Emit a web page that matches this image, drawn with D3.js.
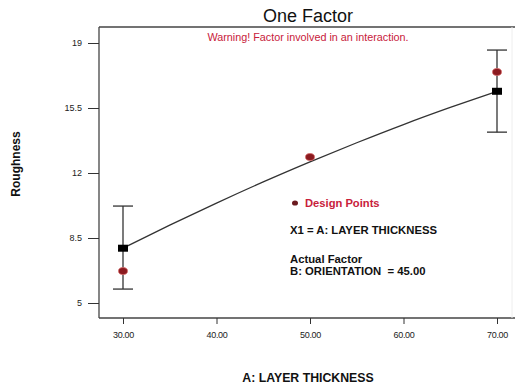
<!DOCTYPE html>
<html>
<head>
<meta charset="utf-8">
<script src="https://cdn.jsdelivr.net/npm/d3@7"></script>
<style>
html,body{margin:0;padding:0;background:#fff;}
svg{display:block;font-family:"Liberation Sans",Arial,sans-serif;}
text{white-space:pre;}
</style>
</head>
<body>
<svg id="chart" width="518" height="389"></svg>
<script>
// ---- data ----
const xTicks = [30, 40, 50, 60, 70];
const yTicks = [5, 8.5, 12, 15.5, 19];
const curveX = [30, 35, 40, 45, 50, 55, 60, 65, 70];
const curveY = [7.95, 9.19, 10.38, 11.52, 12.6, 13.63, 14.61, 15.53, 16.4];
const designX = [30, 50, 70];
const designY = [6.72, 12.86, 17.44];
const barX = [30, 70];
const barPred = [7.95, 16.4];
const barLow = [5.75, 14.2];
const barHigh = [10.22, 18.62];
const titleText = "One Factor";
const warningText = "Warning! Factor involved in an interaction.";
const xTitle = "A: LAYER THICKNESS";
const yTitle = "Roughness";
const legendLines = ["Design Points", "X1 = A: LAYER THICKNESS", "Actual Factor", "B: ORIENTATION  = 45.00"];

const svg = d3.select("#chart");
const L = 99, R = 515, T = 27, B = 318;
const x = d3.scaleLinear().domain([30, 70]).range([123, 497]);
const y = d3.scaleLinear().domain([5, 19]).range([303, 43]);

// frame
svg.append("line").attr("x1", L).attr("x2", R).attr("y1", T).attr("y2", T).attr("stroke", "#444").attr("stroke-width", 1.3);
svg.append("line").attr("x1", L).attr("x2", R).attr("y1", B).attr("y2", B).attr("stroke", "#444").attr("stroke-width", 1.3);
svg.append("line").attr("x1", L).attr("x2", L).attr("y1", T).attr("y2", B).attr("stroke", "#444").attr("stroke-width", 1.3);
svg.append("line").attr("x1", 512).attr("x2", 512).attr("y1", T).attr("y2", B).attr("stroke", "#eee").attr("stroke-width", 1);

// y axis
const yAxis = d3.axisLeft(y).tickValues(yTicks).tickSize(11).tickPadding(6).tickFormat(d => String(d));
const gy = svg.append("g").attr("transform", `translate(${L},0)`).call(yAxis);
gy.select(".domain").remove();
gy.selectAll(".tick line").attr("stroke", "#333");
gy.selectAll(".tick text").attr("font-size", 9).attr("fill", "#222").attr("font-family", "Liberation Sans Narrow, Liberation Sans, Arial, sans-serif");

// x axis
const xAxis = d3.axisBottom(x).tickValues(xTicks).tickSize(6).tickPadding(8).tickFormat(d => d3.format(".2f")(d));
const gx = svg.append("g").attr("transform", `translate(0,${B})`).call(xAxis);
gx.select(".domain").remove();
gx.selectAll(".tick line").attr("stroke", "#333");
gx.selectAll(".tick text").attr("font-size", 9).attr("fill", "#222").attr("letter-spacing", "-0.3px").attr("font-family", "Liberation Sans Narrow, Liberation Sans, Arial, sans-serif");

// titles
svg.append("text").attr("x", 308).attr("y", 22).attr("text-anchor", "middle").attr("font-size", 18).attr("fill", "#111").text(titleText);
svg.append("text").attr("x", 308).attr("y", 41).attr("text-anchor", "middle").attr("font-size", 10.8).attr("fill", "#c8203a").text(warningText);
svg.append("text").attr("x", 308).attr("y", 382).attr("text-anchor", "middle").attr("font-size", 12.3).attr("font-weight", "bold").attr("fill", "#111").text(xTitle);
svg.append("text").attr("transform", "translate(20,164) rotate(-90)").attr("text-anchor", "middle").attr("font-size", 12).attr("font-weight", "bold").attr("fill", "#111").text(yTitle);

// curve
const line = d3.line().x((d, i) => x(curveX[i])).y(d => y(d)).curve(d3.curveMonotoneX);
svg.append("path").datum(curveY).attr("d", line).attr("fill", "none").attr("stroke", "#333").attr("stroke-width", 1.3);

// error bars
barX.forEach((bx, i) => {
  const g = svg.append("g").attr("stroke", "#333").attr("stroke-width", 1.3);
  g.append("line").attr("x1", x(bx)).attr("x2", x(bx)).attr("y1", y(barHigh[i])).attr("y2", y(barLow[i]));
  g.append("line").attr("x1", x(bx) - 10).attr("x2", x(bx) + 10).attr("y1", y(barHigh[i])).attr("y2", y(barHigh[i]));
  g.append("line").attr("x1", x(bx) - 10).attr("x2", x(bx) + 10).attr("y1", y(barLow[i])).attr("y2", y(barLow[i]));
  svg.append("rect").attr("x", x(bx) - 5).attr("y", y(barPred[i]) - 3.5).attr("width", 10).attr("height", 7).attr("fill", "#000");
});

// design points
svg.selectAll("ellipse.dp").data(designY).enter().append("ellipse")
  .attr("class", "dp")
  .attr("cx", (d, i) => x(designX[i])).attr("cy", d => y(d))
  .attr("rx", 4.5).attr("ry", 3.5)
  .attr("fill", "#8b1a1f").attr("stroke", "#d66a6a").attr("stroke-width", 0.8);

// legend
svg.append("ellipse").attr("cx", 295).attr("cy", 203).attr("rx", 3).attr("ry", 2.6).attr("fill", "#6b1a1f");
svg.append("text").attr("x", 305).attr("y", 207).attr("font-size", 11.2).attr("font-weight", "bold").attr("fill", "#c8203a").text(legendLines[0]);
svg.append("text").attr("x", 290).attr("y", 234).attr("font-size", 11.3).attr("font-weight", "bold").attr("fill", "#111").text(legendLines[1]);
svg.append("text").attr("x", 290).attr("y", 263).attr("font-size", 11.3).attr("font-weight", "bold").attr("fill", "#111").text(legendLines[2]);
svg.append("text").attr("x", 290).attr("y", 275).attr("font-size", 11.3).attr("font-weight", "bold").attr("fill", "#111").text(legendLines[3]);
</script>
</body>
</html>
